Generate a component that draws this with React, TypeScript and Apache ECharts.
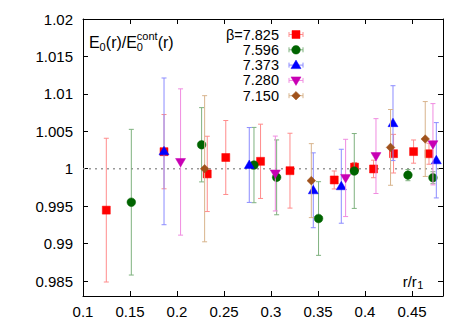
import React, { useEffect, useRef } from "react";
import * as echarts from "echarts";

// ---- data ----
const X_MIN = 0.1;
const X_MAX = 0.483;
const Y_MIN = 0.983;
const Y_MAX = 1.02;
const X_TICKS = [0.1, 0.15, 0.2, 0.25, 0.3, 0.35, 0.4, 0.45];
const Y_TICKS = [0.985, 0.99, 0.995, 1, 1.005, 1.01, 1.015, 1.02];
const REFERENCE = 1;

const BETA_LABELS = ["β=7.825", "7.596", "7.373", "7.280", "7.150"];

// [r/r1, ratio, error]
const B7825 = [
  [0.1248, 0.99447, 0.0096],
  [0.1862, 1.00228, 0.00496],
  [0.2322, 0.99931, 0.00503],
  [0.2519, 1.0015, 0.00494],
  [0.2889, 1.00099, 0.00496],
  [0.3202, 0.99974, 0.005],
  [0.3673, 0.9985, 0.0012],
  [0.3889, 1.00022, 0.0006],
  [0.4091, 0.99997, 0.00117],
  [0.4304, 1.00201, 0.00258],
  [0.4517, 1.00229, 0.00155],
  [0.4681, 1.002, 0.0014],
];
const B7596 = [
  [0.1514, 0.99553, 0.00973],
  [0.2262, 1.0032, 0.00496],
  [0.2819, 1.00049, 0.00503],
  [0.306, 0.99885, 0.005],
  [0.3506, 0.99335, 0.00492],
  [0.3886, 0.9997, 0.005],
  [0.4457, 0.99915, 0.00075],
  [0.4723, 0.9988, 0.0008],
];
const B7373 = [
  [0.1862, 1.00232, 0.0098],
  [0.2769, 1.0005, 0.005],
  [0.345, 0.99712, 0.005],
  [0.3748, 0.99766, 0.00494],
  [0.4298, 1.00609, 0.005],
  [0.4759, 1.00113, 0.00503],
];
const B7280 = [
  [0.2038, 1.0009, 0.00977],
  [0.3046, 0.99936, 0.005],
  [0.3794, 0.99877, 0.00516],
  [0.4117, 1.00169, 0.005],
  [0.4723, 1.00327, 0.00543],
];
const B7150 = [
  [0.2294, 1.0, 0.00976],
  [0.3429, 0.99841, 0.00494],
  [0.4272, 1.00285, 0.00506],
  [0.4641, 1.00397, 0.005],
];

const SETS = [B7825, B7596, B7373, B7280, B7150];
const COLORS = ["#ff0000", "#006400", "#0000ff", "#c800b4", "#a0521c"];
const BAR_COLORS = ["#ff8c8c", "#7fb27f", "#8c8cff", "#f08ce0", "#d8b48c"];
const SHAPES = ["square", "circle", "triangle", "itriangle", "diamond"];

const FONT = "'Liberation Sans', Arial, sans-serif";

function marker(shape: string, cx: number, cy: number, color: string) {
  const style = { fill: color, stroke: color, lineWidth: 0.5 };
  switch (shape) {
    case "square":
      return { type: "rect", shape: { x: cx - 4, y: cy - 4, width: 8, height: 8 }, style };
    case "circle":
      return { type: "circle", shape: { cx, cy, r: 4.3 }, style };
    case "triangle":
      return { type: "polygon", shape: { points: [[cx, cy - 5], [cx + 5, cy + 3.5], [cx - 5, cy + 3.5]] }, style };
    case "itriangle":
      return { type: "polygon", shape: { points: [[cx, cy + 5], [cx + 5, cy - 3.5], [cx - 5, cy - 3.5]] }, style };
    default:
      return { type: "polygon", shape: { points: [[cx, cy - 4.3], [cx + 4.3, cy], [cx, cy + 4.3], [cx - 4.3, cy]] }, style };
  }
}

function errorSeries(i: number) {
  return {
    type: "custom",
    name: BETA_LABELS[i],
    data: SETS[i],
    z: 3 + i,
    clip: false,
    renderItem: (params: any, api: any) => {
      const x = api.value(0);
      const y = api.value(1);
      const e = api.value(2);
      const c = api.coord([x, y]);
      const hi = api.coord([x, y + e]);
      const lo = api.coord([x, y - e]);
      const bs = { stroke: BAR_COLORS[i], lineWidth: 1 };
      return {
        type: "group",
        children: [
          { type: "line", shape: { x1: c[0], y1: hi[1], x2: c[0], y2: lo[1] }, style: bs },
          { type: "line", shape: { x1: c[0] - 2.5, y1: hi[1], x2: c[0] + 2.5, y2: hi[1] }, style: bs },
          { type: "line", shape: { x1: c[0] - 2.5, y1: lo[1], x2: c[0] + 2.5, y2: lo[1] }, style: bs },
          marker(SHAPES[i], c[0], c[1], COLORS[i]),
        ],
      };
    },
  };
}

function legendGraphics() {
  const out: any[] = [];
  const textRight = 279;
  const mx = 296;
  BETA_LABELS.forEach((lab, i) => {
    const cy = 34.5 + i * 15.3;
    out.push({
      type: "text",
      x: textRight,
      y: cy,
      style: { text: lab, font: `14.5px ${FONT}`, lineHeight: 13, fill: "#000", align: "right", verticalAlign: "middle" },
    });
    const bs = { stroke: BAR_COLORS[i], lineWidth: 1 };
    out.push({ type: "line", shape: { x1: mx - 7, y1: cy, x2: mx + 7, y2: cy }, style: bs });
    out.push({ type: "line", shape: { x1: mx - 7, y1: cy - 2.5, x2: mx - 7, y2: cy + 2.5 }, style: bs });
    out.push({ type: "line", shape: { x1: mx + 7, y1: cy - 2.5, x2: mx + 7, y2: cy + 2.5 }, style: bs });
    out.push(marker(SHAPES[i], mx, cy, COLORS[i]));
  });
  return out;
}

function titleGraphics() {
  const big = `16px ${FONT}`;
  const small = `11px ${FONT}`;
  const t = (text: string, x: number, y: number, font: string, lh: number) => ({
    type: "text",
    x,
    y,
    style: { text, font, lineHeight: lh, fill: "#000", align: "left", verticalAlign: "middle" },
  });
  return [
    t("E", 89, 42, big, 16),
    t("0", 99.5, 46.5, small, 10),
    t("(r)/E", 105.8, 42, big, 16),
    t("0", 136.8, 46.5, small, 10),
    t("cont", 136.8, 36, small, 10),
    t("(r)", 157.7, 42, big, 16),
    t("r/r", 402.7, 281, `15px ${FONT}`, 15),
    t("1", 417.3, 285, `11px ${FONT}`, 11),
  ];
}

const fmt = (v: number) => String(+(+v).toFixed(3));

export default function App() {
  const ref = useRef<HTMLDivElement>(null);
  useEffect(() => {
    if (!ref.current) return;
    const chart = echarts.init(ref.current, undefined, { renderer: "svg" });
    const axisLine = { show: true, lineStyle: { color: "#000", width: 1 } };
    const tickX = { show: true, inside: true, length: 5, customValues: X_TICKS, lineStyle: { color: "#000" } };
    const tickY = { show: true, inside: true, length: 5, customValues: Y_TICKS, lineStyle: { color: "#000" } };
    chart.setOption({
      animation: false,
      backgroundColor: "#fff",
      textStyle: { fontFamily: FONT },
      grid: { left: 83, right: 26, top: 19, bottom: 32, containLabel: false, outerBoundsMode: "none" },
      xAxis: [
        {
          type: "value",
          min: X_MIN,
          max: X_MAX,
          position: "bottom",
          axisLine,
          axisTick: tickX,
          axisLabel: { customValues: X_TICKS, color: "#000", fontSize: 15, margin: 8, formatter: fmt, fontFamily: FONT },
          splitLine: { show: false },
        },
        {
          type: "value",
          min: X_MIN,
          max: X_MAX,
          position: "top",
          axisLine,
          axisTick: tickX,
          axisLabel: { show: false },
          splitLine: { show: false },
        },
      ],
      yAxis: [
        {
          type: "value",
          min: Y_MIN,
          max: Y_MAX,
          position: "left",
          axisLine,
          axisTick: tickY,
          axisLabel: { customValues: Y_TICKS, color: "#000", fontSize: 15, margin: 10, formatter: fmt, fontFamily: FONT },
          splitLine: { show: false },
        },
        {
          type: "value",
          min: Y_MIN,
          max: Y_MAX,
          position: "right",
          axisLine,
          axisTick: tickY,
          axisLabel: { show: false },
          splitLine: { show: false },
        },
      ],
      series: [
        {
          type: "line",
          data: [
            [X_MIN, REFERENCE],
            [X_MAX, REFERENCE],
          ],
          symbol: "none",
          z: 1,
          lineStyle: { color: "#999", width: 1.5, type: [2, 4] },
        },
        ...SETS.map((_, i) => errorSeries(i)),
      ],
      graphic: [...titleGraphics(), ...legendGraphics()],
    });
    return () => chart.dispose();
  }, []);
  return <div ref={ref} style={{ position: "fixed", left: 0, top: 0, width: 469, height: 328 }} />;
}
